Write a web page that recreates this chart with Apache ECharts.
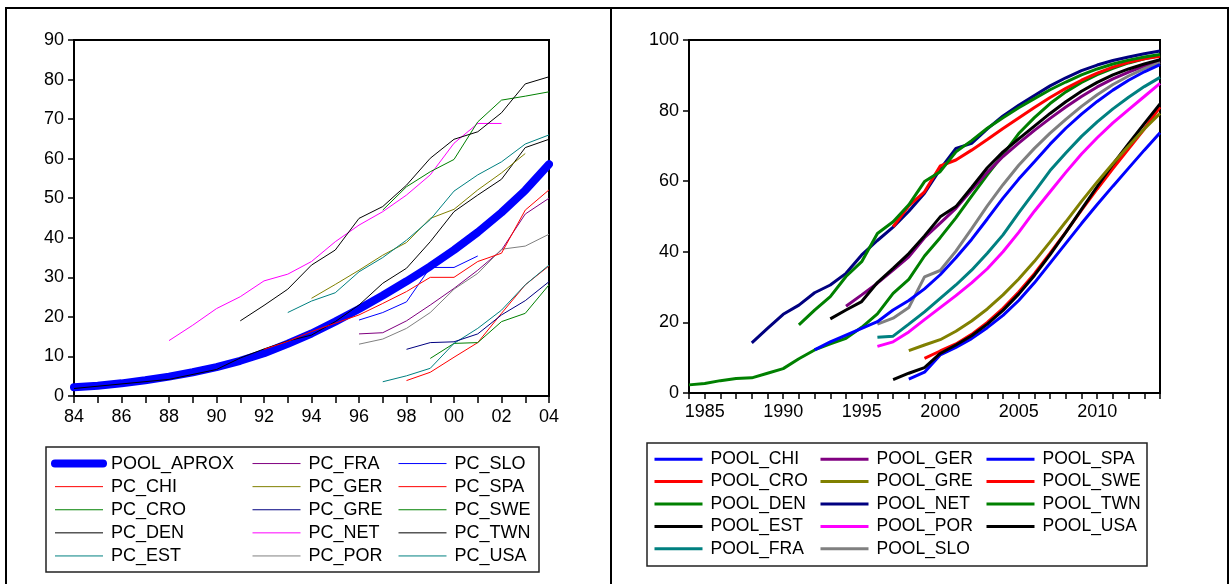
<!DOCTYPE html>
<html>
<head>
<meta charset="utf-8">
<script src="https://cdn.jsdelivr.net/npm/echarts@6/dist/echarts.min.js"></script>
<style>
  html, body { margin: 0; padding: 0; background: #fff; }
  #mychart { width: 1231px; height: 584px; }
</style>
</head>
<body>
<div id="mychart"></div>
<script>
let myChart;
const FONT = 'Liberation Sans, Arial, sans-serif';

let colors = {
  blue: '#0000ff',
  red: '#ff0000',
  green: '#008000',
  black: '#000000',
  teal: '#008080',
  purple: '#800080',
  olive: '#808000',
  navy: '#000080',
  magenta: '#ff00ff',
  gray: '#808080',
};

// ---- left panel: observed series (first value = start year), 1984-2004
const leftYearMin = 1984;
const leftYearMax = 2004;
const poolAprox = [2.2, 2.6, 3.2, 4.0, 4.9, 6.0, 7.3, 8.9, 10.8, 13.2, 15.8, 18.8, 22.0, 25.4, 29.0, 32.8, 36.9, 41.4, 46.4, 52.0, 58.6]; // 1984
const pcChi = [3.9, 6.0, 9.8, 13.5, 20.9, 28.1, 32.9]; // 1998
const pcCro = [9.5, 13.3, 13.5, 18.8, 20.9, 28.1]; // 1999
const pcDen = [1.9, null, null, null, 4.2, null, 6.7, 9.6, 11.9, 13.9, 15.4, 18.8, 23.0, 28.5, 32.3, 39.0, 46.6, 50.8, 54.8, 62.8, 64.9]; // 1984
const pcEst = [3.6, 5.1, 7.0, 13.3, 17.1, 21.7, 28.1, 33.1]; // 1997
const pcFra = [15.7, 16.0, 19.0, 23.0, 27.2, 31.8, 36.9, 46.0, 50.0]; // 1996
const pcGer = [24.7, 28.2, 31.8, 35.6, 38.8, 44.9, 47.2, 52.1, 56.4, 61.3]; // 1994
const pcGre = [11.8, 13.5, 13.7, 15.7, 20.5, 24.1, 28.9]; // 1998
const pcNet = [14.0, 17.9, 22.1, 25.1, 29.1, 30.8, 34.0, 39.0, 43.2, 46.6, 50.8, 55.9, 63.9, 68.9, 68.9]; // 1988
const pcPor = [13.1, 14.4, 17.1, 21.1, 27.0, 31.0, 37.1, 37.9, 40.9]; // 1996
const pcSlo = [19.2, 21.1, 23.8, 32.5, 32.5, 35.4]; // 1996
const pcSpa = [11.8, 13.8, 16.3, 18.4, 20.5, 23.4, 26.4, 30.0, 30.0, 34.0, 36.1, 47.0, 52.1]; // 1992
const pcSwe = [47.0, 52.9, 56.7, 59.8, 69.3, 74.8, 75.8, 76.9]; // 1997
const pcTwn = [19.0, 22.9, 27.0, 33.1, 36.9, 44.9, 47.9, 53.3, 60.1, 64.9, 66.8, 71.6, 78.9, 80.7]; // 1991
const pcUsa = [21.1, 24.0, 26.1, 31.4, 35.0, 39.4, 44.6, 51.8, 55.9, 59.2, 63.7, 66.0]; // 1993

// ---- right panel: pooled fits, 1984-2014
const rightYearMin = 1984;
const rightYearMax = 2014;
const poolChi = [3.9, 5.9, 10.8, 12.9, 15.4, 18.5, 22.0, 26.2, 31.2, 36.8, 42.4, 48.0, 53.4, 58.6, 63.7, 68.8, 73.7]; // 1998
const poolCro = [9.8, 11.9, 13.9, 16.6, 20.0, 24.0, 28.6, 33.8, 39.6, 45.6, 51.8, 57.8, 63.6, 69.2, 74.8, 81.0]; // 1999
const poolDen = [2.3, 2.7, 3.5, 4.1, 4.3, 5.6, 6.9, 9.7, 12.2, 13.9, 15.5, 18.6, 22.4, 28.2, 32.2, 38.8, 44.0, 49.6, 55.8, 61.8, 67.5, 73.5, 78.0, 82.0, 85.3, 88.0, 90.2, 92.0, 93.5, 94.7, 95.6]; // 1984
const poolEst = [3.8, 5.6, 7.2, 11.2, 13.6, 16.2, 19.5, 23.4, 28.0, 33.3, 39.2, 45.5, 52.0, 58.5, 64.8, 70.6, 76.3, 81.9]; // 1997
const poolFra = [15.8, 16.1, 19.5, 23.0, 26.8, 30.6, 34.8, 39.6, 44.8, 51.0, 57.0, 63.0, 68.0, 72.7, 76.8, 80.5, 83.8, 86.8, 89.4]; // 1996
const poolGer = [24.6, 27.8, 31.1, 34.8, 38.6, 44.0, 48.1, 52.3, 57.5, 62.5, 67.0, 70.8, 74.4, 77.8, 81.0, 84.0, 86.7, 89.0, 90.9, 92.6, 94.0]; // 1994
const poolGre = [12.0, 13.6, 15.1, 17.5, 20.4, 23.8, 27.8, 32.3, 37.3, 42.8, 48.5, 54.3, 59.8, 65.0, 70.0, 74.8, 79.2]; // 1998
const poolNet = [14.2, 18.3, 22.3, 24.9, 28.4, 30.6, 33.9, 39.1, 43.2, 47.0, 51.5, 56.6, 63.4, 69.3, 70.7, 74.8, 78.5, 81.5, 84.3, 87.0, 89.3, 91.3, 92.9, 94.2, 95.2, 96.1, 96.9]; // 1988
const poolPor = [13.2, 14.5, 17.3, 20.8, 24.2, 27.6, 31.2, 35.2, 40.0, 45.5, 51.5, 57.0, 62.5, 67.7, 72.3, 76.5, 80.3, 84.0, 87.7]; // 1996
const poolSlo = [19.5, 21.2, 24.2, 32.9, 34.7, 40.2, 46.5, 53.0, 59.0, 64.5, 69.3, 73.6, 77.5, 81.2, 84.5, 87.4, 89.8, 91.9, 93.6]; // 1996
const poolSpa = [12.2, 14.5, 16.4, 18.3, 20.2, 23.5, 26.2, 29.5, 33.5, 38.3, 43.5, 49.3, 55.2, 60.6, 65.5, 70.5, 75.0, 79.0, 82.6, 85.8, 88.6, 91.0, 93.0]; // 1992
const poolSwe = [47.1, 53.0, 57.0, 64.3, 66.0, 68.8, 71.8, 74.9, 77.9, 80.9, 83.7, 86.3, 88.6, 90.6, 92.3, 93.7, 94.7, 95.4]; // 1997
const poolTwn = [19.3, 23.5, 27.3, 33.0, 37.2, 45.2, 48.5, 53.3, 59.9, 62.7, 68.3, 71.5, 75.0, 78.0, 80.8, 83.4, 85.9, 88.1, 90.1, 91.8, 93.2, 94.3, 95.2, 95.9]; // 1991
const poolUsa = [21.0, 23.5, 25.9, 31.3, 35.3, 39.5, 44.5, 49.9, 52.8, 58.2, 63.8, 68.3, 72.0, 75.6, 79.2, 82.5, 85.5, 88.0, 90.1, 91.8, 93.2, 94.4]; // 1993

// [year, value] pairs starting at a given year
function toPairs(start, values) {
  return values.map((v, i) => [start + i, v]);
}

function makeLine(name, start, values, color, width, side) {
  return {
    name: name,
    type: 'line',
    xAxisIndex: side,
    yAxisIndex: side,
    data: toPairs(start, values),
    symbol: 'none',
    showSymbol: false,
    connectNulls: true,
    color: color,
    lineStyle: { color: color, width: width, cap: width > 4 ? 'round' : 'butt' },
    emphasis: { disabled: true },
  };
}

const leftSeries = [
  makeLine('POOL_APROX', 1984, poolAprox, colors.blue, 8, 0),
  makeLine('PC_CHI', 1998, pcChi, colors.red, 1, 0),
  makeLine('PC_CRO', 1999, pcCro, colors.green, 1, 0),
  makeLine('PC_DEN', 1984, pcDen, colors.black, 1, 0),
  makeLine('PC_EST', 1997, pcEst, colors.teal, 1, 0),
  makeLine('PC_FRA', 1996, pcFra, colors.purple, 1, 0),
  makeLine('PC_GER', 1994, pcGer, colors.olive, 1, 0),
  makeLine('PC_GRE', 1998, pcGre, colors.navy, 1, 0),
  makeLine('PC_NET', 1988, pcNet, colors.magenta, 1, 0),
  makeLine('PC_POR', 1996, pcPor, colors.gray, 1, 0),
  makeLine('PC_SLO', 1996, pcSlo, colors.blue, 1, 0),
  makeLine('PC_SPA', 1992, pcSpa, colors.red, 1, 0),
  makeLine('PC_SWE', 1997, pcSwe, colors.green, 1, 0),
  makeLine('PC_TWN', 1991, pcTwn, colors.black, 1, 0),
  makeLine('PC_USA', 1993, pcUsa, colors.teal, 1, 0),
];

const rightSeries = [
  makeLine('POOL_CHI', 1998, poolChi, colors.blue, 3, 1),
  makeLine('POOL_CRO', 1999, poolCro, colors.red, 3, 1),
  makeLine('POOL_DEN', 1984, poolDen, colors.green, 3, 1),
  makeLine('POOL_EST', 1997, poolEst, colors.black, 3, 1),
  makeLine('POOL_FRA', 1996, poolFra, colors.teal, 3, 1),
  makeLine('POOL_GER', 1994, poolGer, colors.purple, 3, 1),
  makeLine('POOL_GRE', 1998, poolGre, colors.olive, 3, 1),
  makeLine('POOL_NET', 1988, poolNet, colors.navy, 3, 1),
  makeLine('POOL_POR', 1996, poolPor, colors.magenta, 3, 1),
  makeLine('POOL_SLO', 1996, poolSlo, colors.gray, 3, 1),
  makeLine('POOL_SPA', 1992, poolSpa, colors.blue, 3, 1),
  makeLine('POOL_SWE', 1997, poolSwe, colors.red, 3, 1),
  makeLine('POOL_TWN', 1991, poolTwn, colors.green, 3, 1),
  makeLine('POOL_USA', 1993, poolUsa, colors.black, 3, 1),
];

// legend entries copy each series' own line width
const legendItems = (list) =>
  list.map((s) => ({
    name: s.name,
    lineStyle: { width: s.lineStyle.width, color: s.color, cap: s.lineStyle.cap },
    itemStyle: { opacity: 0 },
  }));

let axisLabelStyle = { color: '#000', fontSize: 18, fontFamily: FONT };

function legendColumn(data, left, top, lineHeight, fontSize) {
  return {
    data: data,
    orient: 'vertical',
    left: left,
    top: top,
    padding: 0,
    itemGap: 0,
    itemWidth: 48,
    itemHeight: 12,
    selectedMode: false,
    itemStyle: { opacity: 0 }, // hide the marker, keep the line
    textStyle: {
      color: '#000',
      fontSize: fontSize,
      fontFamily: FONT,
      lineHeight: lineHeight,
      padding: [0, 0, 0, 3],
    },
  };
}

let option = {
  animation: false,
  backgroundColor: '#fff',
  grid: [
    { left: 74, top: 40, width: 475, height: 356, show: true, borderColor: '#000', borderWidth: 2 },
    { left: 689, top: 40, width: 471, height: 353, show: true, borderColor: '#000', borderWidth: 2 },
  ],
  xAxis: [
    {
      type: 'value',
      gridIndex: 0,
      min: leftYearMin,
      max: leftYearMax,
      interval: 1,
      axisLine: { show: true, onZero: false, lineStyle: { color: '#000', width: 2 } },
      axisTick: { show: true, length: 7, lineStyle: { color: '#000', width: 1.5 } },
      axisLabel: Object.assign({}, axisLabelStyle, {
        margin: 12,
        formatter: (v) => (v % 2 === 0 ? String(v).slice(2) : ''),
      }),
      splitLine: { show: false },
    },
    {
      type: 'value',
      gridIndex: 1,
      min: rightYearMin,
      max: rightYearMax,
      interval: 1,
      axisLine: { show: true, onZero: false, lineStyle: { color: '#000', width: 2 } },
      axisTick: { show: true, length: 6, lineStyle: { color: '#000', width: 1.5 } },
      axisLabel: Object.assign({}, axisLabelStyle, {
        margin: 10,
        formatter: (v) => (v % 5 === 0 ? String(v) : ''),
      }),
      splitLine: { show: false },
    },
  ],
  yAxis: [
    {
      type: 'value',
      gridIndex: 0,
      min: 0,
      max: 90,
      interval: 10,
      axisLine: { show: true, lineStyle: { color: '#000', width: 2 } },
      axisTick: { show: true, length: 6, lineStyle: { color: '#000', width: 1.5 } },
      axisLabel: Object.assign({}, axisLabelStyle, { margin: 10 }),
      splitLine: { show: false },
    },
    {
      type: 'value',
      gridIndex: 1,
      min: 0,
      max: 100,
      interval: 20,
      axisLine: { show: true, lineStyle: { color: '#000', width: 2 } },
      axisTick: { show: true, length: 6, lineStyle: { color: '#000', width: 1.5 } },
      axisLabel: Object.assign({}, axisLabelStyle, { margin: 10 }),
      splitLine: { show: false },
    },
  ],
  legend: [
    legendColumn(legendItems(leftSeries.slice(0, 5)), 51, 452, 23.1, 18),
    legendColumn(legendItems(leftSeries.slice(5, 10)), 252, 452, 23.1, 18),
    legendColumn(legendItems(leftSeries.slice(10, 15)), 398, 452, 23.1, 18),
    legendColumn(legendItems(rightSeries.slice(0, 5)), 653, 448, 22.4, 17.5),
    legendColumn(legendItems(rightSeries.slice(5, 10)), 819, 448, 22.4, 17.5),
    legendColumn(legendItems(rightSeries.slice(10, 14)), 985, 448, 22.4, 17.5),
  ],
  graphic: [
    // outer frame and divider
    { type: 'rect', shape: { x: 6, y: 8, width: 1222, height: 600 }, style: { fill: 'none', stroke: '#000', lineWidth: 2 } },
    { type: 'line', shape: { x1: 611, y1: 8, x2: 611, y2: 584 }, style: { stroke: '#000', lineWidth: 2 } },
    // legend boxes
    { type: 'rect', shape: { x: 46, y: 447, width: 493, height: 125 }, style: { fill: 'none', stroke: '#222', lineWidth: 1.5 } },
    { type: 'rect', shape: { x: 647, y: 443, width: 500, height: 123 }, style: { fill: 'none', stroke: '#222', lineWidth: 1.5 } },
  ],
  series: leftSeries.concat(rightSeries),
};

function initChart() {
  let chartDom = document.getElementById('mychart');
  myChart = echarts.init(chartDom, null, { renderer: 'canvas' });
  myChart.setOption(option);
}

initChart();
</script>
</body>
</html>
